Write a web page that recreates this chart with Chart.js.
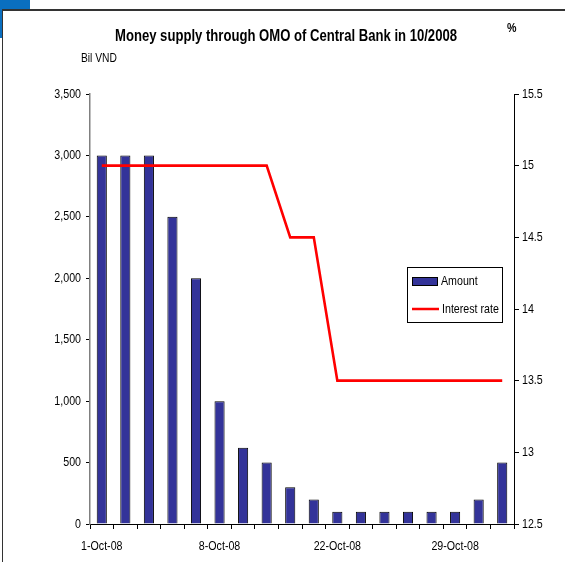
<!DOCTYPE html>
<html>
<head>
<meta charset="utf-8">
<script src="https://cdn.jsdelivr.net/npm/chart.js@4/dist/chart.umd.min.js"></script>
<style>
  html, body { margin: 0; padding: 0; background: #ffffff; width: 565px; height: 562px; overflow: hidden; }
  #blue { position: absolute; left: 0; top: 0; width: 30px; height: 38px; background: #0a6fc0; }
  #frame { position: absolute; left: 2px; top: 9px; width: 600px; height: 600px; background: #ffffff;
           border-top: 2px solid #333333; border-left: 1.5px solid #333333; }
  #c { position: absolute; left: 0; top: 0; }
</style>
</head>
<body>
<div id="blue"></div>
<div id="frame"></div>
<canvas id="c" width="565" height="562"></canvas>
<script>
const categories = ['1-Oct-08','2-Oct-08','3-Oct-08','6-Oct-08','7-Oct-08','8-Oct-08','9-Oct-08','13-Oct-08','16-Oct-08','20-Oct-08','22-Oct-08','23-Oct-08','24-Oct-08','27-Oct-08','28-Oct-08','29-Oct-08','30-Oct-08','31-Oct-08'];
const amount = [3000,3000,3000,2500,2000,1000,620,500,300,200,100,100,100,100,100,100,200,500];
const interestRate = [15,15,15,15,15,15,15,15,14.5,14.5,13.5,13.5,13.5,13.5,13.5,13.5,13.5,13.5];
const shownLabels = ['1-Oct-08','8-Oct-08','22-Oct-08','29-Oct-08'];
const leftTicks = [0,500,1000,1500,2000,2500,3000,3500];
const rightTicks = [12.5,13,13.5,14,14.5,15,15.5];

const FONT = "'Liberation Sans', Arial, sans-serif";
const NARROW = 0.82;

function narrowText(ctx, text, x, y, align, font, sx) {
  ctx.save();
  ctx.font = font;
  ctx.textBaseline = 'middle';
  ctx.textAlign = 'left';
  const w = ctx.measureText(text).width * sx;
  let left = x;
  if (align === 'center') left = x - w / 2;
  else if (align === 'right') left = x - w;
  ctx.translate(left, y);
  ctx.scale(sx, 1);
  ctx.fillText(text, 0, 0);
  ctx.restore();
}

const textPlugin = {
  id: 'texts',
  afterDraw(chart) {
    const ctx = chart.ctx;
    ctx.save();
    ctx.fillStyle = '#000';

    // title, fitted to the reference width
    const title = 'Money supply through OMO of Central Bank in 10/2008';
    ctx.font = 'bold 16px ' + FONT;
    const tsx = 342 / ctx.measureText(title).width;
    narrowText(ctx, title, 286, 37, 'center', 'bold 16px ' + FONT, tsx);
    narrowText(ctx, 'Bil VND', 81, 59, 'left', '12.5px ' + FONT, NARROW);
    narrowText(ctx, '%', 507, 28, 'left', 'bold 13px ' + FONT, NARROW);

    // axis tick labels from the library's scales
    const tf = '13px ' + FONT;
    const ys = chart.scales.y;
    ys.ticks.forEach(t => {
      narrowText(ctx, t.value.toLocaleString('en-US'), 81, ys.getPixelForValue(t.value), 'right', tf, NARROW);
    });
    const y2 = chart.scales.y2;
    y2.ticks.forEach(t => {
      narrowText(ctx, String(t.value), 522, y2.getPixelForValue(t.value), 'left', tf, NARROW);
    });
    const xs = chart.scales.x;
    categories.forEach((c, i) => {
      if (shownLabels.includes(c)) {
        narrowText(ctx, c, xs.getPixelForValue(i), 546, 'center', tf, NARROW);
      }
    });

    // legend
    const lx = 407, ly = 267, lw = 95, lh = 55;
    ctx.fillStyle = '#fff';
    ctx.fillRect(lx, ly, lw, lh);
    ctx.strokeStyle = '#000';
    ctx.lineWidth = 1;
    ctx.strokeRect(lx + 0.5, ly + 0.5, lw, lh);
    const barDs = chart.data.datasets.find(d => d.type === 'bar');
    const lineDs = chart.data.datasets.find(d => d.type === 'line');
    ctx.fillStyle = barDs.backgroundColor;
    ctx.fillRect(412, 277, 25, 9);
    ctx.strokeStyle = '#000';
    ctx.strokeRect(412.5, 277.5, 25, 8);
    ctx.strokeStyle = lineDs.borderColor;
    ctx.lineWidth = 2.5;
    ctx.beginPath();
    ctx.moveTo(412, 309);
    ctx.lineTo(439, 309);
    ctx.stroke();
    ctx.fillStyle = '#000';
    narrowText(ctx, barDs.label, 441, 281, 'left', tf, NARROW);
    narrowText(ctx, lineDs.label, 442, 309, 'left', tf, NARROW);
    ctx.restore();
  }
};

new Chart(document.getElementById('c'), {
  data: {
    labels: categories,
    datasets: [
      {
        type: 'line',
        label: 'Interest rate',
        data: interestRate,
        yAxisID: 'y2',
        borderColor: '#ff0000',
        borderWidth: 2.6,
        pointRadius: 0,
        tension: 0,
        fill: false,
        order: 0
      },
      {
        type: 'bar',
        label: 'Amount',
        data: amount,
        yAxisID: 'y',
        backgroundColor: '#333399',
        borderColor: '#000000',
        borderWidth: 1,
        borderSkipped: 'bottom',
        categoryPercentage: 1.0,
        barPercentage: 0.43,
        order: 1
      }
    ]
  },
  options: {
    responsive: false,
    animation: false,
    devicePixelRatio: 1,
    layout: { padding: { top: 94, bottom: 0, left: 0, right: 0 } },
    plugins: { legend: { display: false }, tooltip: { enabled: false }, title: { display: false } },
    scales: {
      x: {
        offset: true,
        grid: { offset: true, drawOnChartArea: false, drawTicks: true, tickLength: 5, color: '#000' },
        border: { display: true, color: '#000', width: 1 },
        ticks: { display: false, autoSkip: false },
        afterFit(s) { s.height = 38; }
      },
      y: {
        position: 'left',
        min: 0, max: 3500,
        afterBuildTicks(s) { s.ticks = leftTicks.map(v => ({ value: v })); },
        grid: { drawOnChartArea: false, drawTicks: true, tickLength: 4, color: '#000' },
        border: { display: true, color: '#808080', width: 1.5 },
        ticks: { display: false },
        afterFit(s) { s.width = 90; }
      },
      y2: {
        position: 'right',
        min: 12.5, max: 15.5,
        afterBuildTicks(s) { s.ticks = rightTicks.map(v => ({ value: v })); },
        grid: { drawOnChartArea: false, drawTicks: true, tickLength: 5, color: '#000' },
        border: { display: true, color: '#000', width: 1 },
        ticks: { display: false },
        afterFit(s) { s.width = 51; }
      }
    }
  },
  plugins: [textPlugin]
});
</script>
</body>
</html>
